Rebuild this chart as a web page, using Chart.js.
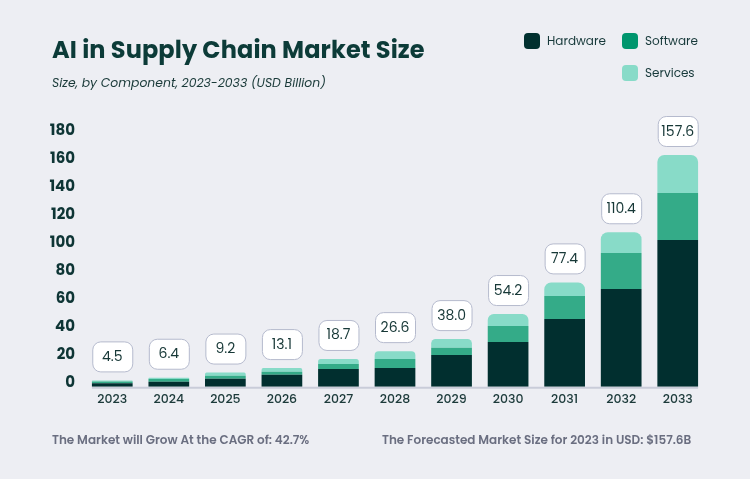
<!DOCTYPE html>
<html>
<head>
<meta charset="utf-8">
<script src="https://cdn.jsdelivr.net/npm/chart.js@4.4.1/dist/chart.umd.min.js"></script>
<style>
    html, body { margin: 0; padding: 0; background: #edeef3; }
    #wrap { position: relative; width: 750px; height: 479px; font-family: "Poppins", "Inter", sans-serif; color: #0e3a38; }
    #chart { position: absolute; left: 0; top: 0; }
    .title { position: absolute; left: 52px; top: 32px; font-size: 24px; font-weight: 700; letter-spacing: 0.1px; color: #0c3b38; }
    .subtitle { position: absolute; left: 52px; top: 74px; font-size: 12.4px; font-style: italic; color: #1a3a39; }
    .legend { position: absolute; font-size: 12px; color: #17393a; display: flex; align-items: center; }
    .legend span.sw { width: 16px; height: 16px; border-radius: 4px; margin-right: 7px; display: inline-block; }
    .foot { position: absolute; top: 431px; font-size: 12px; font-weight: 600; color: #6a6e80; }
</style>
</head>
<body>
<div id="wrap">
    <canvas id="chart" width="750" height="479"></canvas>
    <div class="title">AI in Supply Chain Market Size</div>
    <div class="subtitle">Size, by Component, 2023-2033 (USD Billion)</div>
    <div id="legendBox"></div>
    <div class="foot" style="left:52px">The Market will Grow At the CAGR of: 42.7%</div>
    <div class="foot" style="left:382px">The Forecasted Market Size for 2023 in USD: $157.6B</div>
</div>

<script>
const years = ["2023", "2024", "2025", "2026", "2027", "2028", "2029", "2030", "2031", "2032", "2033"];
const hardware = [2.4, 3.6, 5.6, 8.6, 12.6, 13.3, 22.6, 31.9, 48.3, 69.8, 104.8];
const software = [1.4, 1.9, 2.2, 2.1, 3.6, 6.4, 5.2, 11.4, 16.4, 25.7, 33.6];
const services = [0.7, 0.9, 2.3, 2.6, 3.6, 5.7, 6.2, 8.6, 9.8, 14.8, 27.1];
const totalLabels = ["4.5", "6.4", "9.2", "13.1", "18.7", "26.6", "38.0", "54.2", "77.4", "110.4", "157.6"];
const yTicks = [0, 20, 40, 60, 80, 100, 120, 140, 160, 180];

const seriesNames = ["Hardware", "Software", "Services"];
const barColors = ["#012f2f", "#34ab88", "#88dbc8"];
const legendColors = ["#01302f", "#00966e", "#88dbc8"];

// legend (2 rows, right side)
const legendPos = [[524, 32], [622, 32], [622, 64]];
const legendBox = document.getElementById("legendBox");
seriesNames.forEach((name, i) => {
    const d = document.createElement("div");
    d.className = "legend";
    d.style.left = legendPos[i][0] + "px";
    d.style.top = legendPos[i][1] + "px";
    d.innerHTML = `<span class="sw" style="background:${legendColors[i]}"></span>${name}`;
    legendBox.appendChild(d);
});

// baseline under the bars + total boxes
const decorPlugin = {
    id: "decor",
    beforeDatasetsDraw(chart) {
        const ctx = chart.ctx;
        const meta = chart.getDatasetMeta(0);
        const first = meta.data[0], last = meta.data[meta.data.length - 1];
        const y0 = chart.scales.y.getPixelForValue(0) + 1;
        ctx.save();
        ctx.strokeStyle = "#c9ccd9";
        ctx.lineWidth = 2;
        ctx.beginPath();
        ctx.moveTo(first.x - first.width / 2, y0);
        ctx.lineTo(last.x + last.width / 2, y0);
        ctx.stroke();
        ctx.restore();
    },
    afterDatasetsDraw(chart) {
        const ctx = chart.ctx;
        const topMeta = chart.getDatasetMeta(2);
        ctx.save();
        topMeta.data.forEach((bar, i) => {
            const w = 40, h = 30;
            const x = bar.x - w / 2;
            const y = bar.y - 9 - h;
            ctx.beginPath();
            ctx.roundRect(x + 0.5, y + 0.5, w, h, 8);
            ctx.fillStyle = "#ffffff";
            ctx.fill();
            ctx.strokeStyle = "#b5bacd";
            ctx.lineWidth = 1;
            ctx.stroke();
            ctx.fillStyle = "#173837";
            ctx.font = "14px Poppins, Inter, sans-serif";
            ctx.textAlign = "center";
            ctx.textBaseline = "middle";
            ctx.fillText(totalLabels[i], bar.x, y + h / 2 + 1);
        });
        ctx.restore();
    }
};

new Chart(document.getElementById("chart"), {
    type: "bar",
    data: {
        labels: years,
        datasets: [
            { label: seriesNames[0], data: hardware, backgroundColor: barColors[0], borderRadius: 0 },
            { label: seriesNames[1], data: software, backgroundColor: barColors[1], borderRadius: 0 },
            {
                label: seriesNames[2], data: services, backgroundColor: barColors[2],
                borderRadius: { topLeft: 7, topRight: 7, bottomLeft: 0, bottomRight: 0 },
                borderSkipped: false
            }
        ]
    },
    options: {
        responsive: false,
        animation: false,
        layout: { padding: { left: 0, right: 44, top: 134.7, bottom: 62.3 } },
        datasets: { bar: { categoryPercentage: 1, barPercentage: 0.72 } },
        plugins: {
            legend: { display: false },
            tooltip: { enabled: false }
        },
        scales: {
            x: {
                stacked: true,
                grid: { display: false, drawTicks: false },
                border: { display: false },
                ticks: {
                    color: "#1c3a3a",
                    padding: 6,
                    font: { family: "Poppins, Inter, sans-serif", size: 12.5, weight: "500" }
                },
                afterFit: s => { s.height = 30; }
            },
            y: {
                stacked: true,
                min: 0,
                max: 180,
                grid: { display: false, drawTicks: false },
                border: { display: false },
                afterBuildTicks: s => { s.ticks = yTicks.map(v => ({ value: v })); },
                afterFit: s => { s.width = 84; },
                ticks: {
                    color: "#0e3535",
                    padding: 9,
                    labelOffset: -3,
                    font: { family: "Poppins, Inter, sans-serif", size: 15, weight: "700" }
                }
            }
        }
    },
    plugins: [decorPlugin]
});
</script>
</body>
</html>
